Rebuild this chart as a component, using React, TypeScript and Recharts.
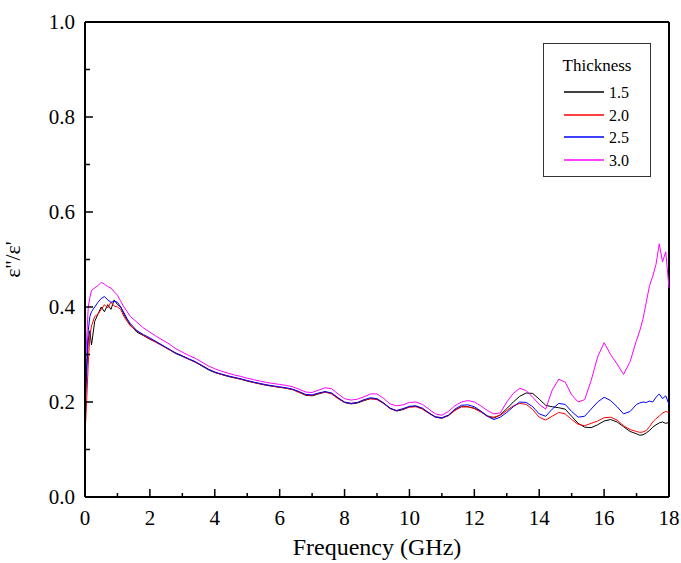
import React from 'react';
import { LineChart, Line, XAxis, YAxis, ReferenceLine, Label } from 'recharts';

const freq = [
  0, 0.05, 0.1, 0.15, 0.2, 0.3, 0.4, 0.5, 0.6, 0.7, 0.8, 0.9, 1.0, 1.1, 1.2, 1.3, 1.4, 1.6, 1.8,
  2.0, 2.2, 2.4, 2.6, 2.8, 3.0, 3.2, 3.4, 3.6, 3.8, 4.0, 4.2, 4.4, 4.6, 4.8,
  5.0, 5.2, 5.4, 5.6, 5.8, 6.0, 6.2, 6.4, 6.6, 6.8, 7.0, 7.2, 7.4, 7.6, 7.8,
  8.0, 8.2, 8.4, 8.6, 8.8, 9.0, 9.2, 9.4, 9.6, 9.8, 10.0, 10.2, 10.4, 10.6, 10.8,
  11.0, 11.2, 11.4, 11.6, 11.8, 12.0, 12.2, 12.4, 12.6, 12.8, 13.0, 13.2, 13.4, 13.6, 13.8,
  14.0, 14.2, 14.4, 14.6, 14.8, 15.0, 15.2, 15.4, 15.6, 15.8, 16.0, 16.2, 16.4, 16.6, 16.8,
  17.0, 17.1, 17.2, 17.3, 17.4, 17.5, 17.6, 17.7, 17.8, 17.9, 18.0,
];

const t15 = [
  0.19, 0.26, 0.33, 0.35, 0.32, 0.37, 0.385, 0.40, 0.39, 0.405, 0.395, 0.415, 0.405, 0.40, 0.385, 0.372, 0.362, 0.347, 0.34,
  0.332, 0.326, 0.318, 0.31, 0.302, 0.296, 0.29, 0.284, 0.276, 0.268, 0.262, 0.258, 0.254, 0.251, 0.248,
  0.244, 0.241, 0.238, 0.235, 0.233, 0.231, 0.229, 0.226, 0.221, 0.214, 0.213, 0.217, 0.221, 0.218, 0.208,
  0.199, 0.196, 0.198, 0.203, 0.207, 0.206, 0.198, 0.187, 0.181, 0.184, 0.19, 0.191, 0.186, 0.177, 0.169,
  0.167, 0.172, 0.183, 0.19, 0.19, 0.187, 0.18, 0.171, 0.166, 0.173, 0.186, 0.2, 0.212, 0.219, 0.218,
  0.206, 0.193, 0.19, 0.188, 0.185, 0.17, 0.155, 0.147, 0.146, 0.152, 0.16, 0.163, 0.158, 0.148, 0.138,
  0.133, 0.13, 0.131, 0.135, 0.14, 0.147, 0.152, 0.156, 0.158, 0.155, 0.157,
];

const t20 = [
  0.13, 0.2, 0.28, 0.34, 0.36, 0.38, 0.385, 0.395, 0.405, 0.398, 0.41, 0.402, 0.40, 0.395, 0.38, 0.37, 0.36, 0.35, 0.34,
  0.333, 0.325, 0.318, 0.31, 0.303, 0.297, 0.29, 0.284, 0.277, 0.269, 0.263, 0.258, 0.255, 0.251, 0.248,
  0.245, 0.241, 0.238, 0.236, 0.233, 0.231, 0.229, 0.226, 0.22, 0.215, 0.214, 0.218, 0.221, 0.217, 0.207,
  0.199, 0.197, 0.199, 0.204, 0.207, 0.205, 0.197, 0.186, 0.182, 0.185, 0.189, 0.19, 0.185, 0.176, 0.168,
  0.166, 0.171, 0.182, 0.19, 0.19, 0.186, 0.179, 0.17, 0.168, 0.172, 0.182, 0.192, 0.197, 0.195, 0.184,
  0.168, 0.162, 0.17, 0.178, 0.175, 0.163, 0.153, 0.15, 0.155, 0.16, 0.167, 0.168, 0.162, 0.15, 0.142,
  0.138, 0.136, 0.137, 0.14, 0.148, 0.158, 0.165, 0.17, 0.177, 0.18, 0.178,
];

const t25 = [
  0.17, 0.28, 0.35, 0.38, 0.39, 0.40, 0.41, 0.418, 0.422, 0.415, 0.41, 0.412, 0.41, 0.40, 0.388, 0.375, 0.365, 0.35, 0.342,
  0.335, 0.327, 0.319, 0.311, 0.303, 0.297, 0.291, 0.285, 0.277, 0.269, 0.263, 0.259, 0.255, 0.252, 0.249,
  0.245, 0.242, 0.239, 0.236, 0.234, 0.232, 0.23, 0.227, 0.222, 0.216, 0.215, 0.219, 0.222, 0.219, 0.209,
  0.2, 0.197, 0.199, 0.205, 0.209, 0.207, 0.198, 0.187, 0.182, 0.186, 0.191, 0.192, 0.187, 0.177, 0.168,
  0.166, 0.172, 0.185, 0.193, 0.194, 0.19, 0.181, 0.17, 0.163, 0.168, 0.178, 0.19, 0.2, 0.199, 0.19,
  0.175, 0.17, 0.185, 0.197, 0.195, 0.18, 0.168, 0.17, 0.185, 0.2, 0.21, 0.203, 0.19, 0.175, 0.18,
  0.195, 0.198, 0.2, 0.199, 0.202, 0.2, 0.21, 0.217, 0.207, 0.213, 0.195,
];

const t30 = [
  0.25, 0.33, 0.40, 0.42, 0.435, 0.44, 0.445, 0.452, 0.448, 0.443, 0.44, 0.432, 0.425, 0.412, 0.40, 0.39, 0.38, 0.368, 0.356,
  0.347, 0.338, 0.33, 0.322, 0.312, 0.305, 0.298, 0.292, 0.284, 0.276, 0.27, 0.265, 0.261, 0.257, 0.254,
  0.25, 0.247, 0.244, 0.241, 0.239, 0.237, 0.235, 0.232, 0.227, 0.221, 0.22, 0.225, 0.23, 0.228, 0.217,
  0.207, 0.204, 0.206, 0.211, 0.217, 0.217, 0.208, 0.196, 0.192, 0.194, 0.199, 0.2, 0.195, 0.185, 0.175,
  0.172, 0.18, 0.192, 0.2, 0.203, 0.2, 0.192, 0.182, 0.175, 0.177, 0.2, 0.218, 0.229, 0.224, 0.21,
  0.195, 0.185, 0.225, 0.248, 0.242, 0.215, 0.2, 0.205, 0.245, 0.295, 0.325, 0.3, 0.28, 0.258, 0.285,
  0.33, 0.35, 0.375, 0.41, 0.445, 0.465, 0.49, 0.533, 0.495, 0.516, 0.44,
];

const seriesNames = ['1.5', '2.0', '2.5', '3.0'];
const seriesKeys = ['t15', 't20', 't25', 't30'];
const seriesColors = ['#000000', '#ff0000', '#0000ff', '#ff00ff'];
const legendTitle = 'Thickness';

const xTicks = [0, 1, 2, 3, 4, 5, 6, 7, 8, 9, 10, 11, 12, 13, 14, 15, 16, 17, 18];
const yTicks = [0, 0.1, 0.2, 0.3, 0.4, 0.5, 0.6, 0.7, 0.8, 0.9, 1.0];

const data = freq.map((f, i) => ({ f, t15: t15[i], t20: t20[i], t25: t25[i], t30: t30[i] }));

const FONT = 'Liberation Serif';

const XTick = (props: any) => {
  const { x, y, payload } = props;
  const v = payload.value;
  const major = Math.round(v) % 2 === 0;
  return (
    <g>
      <line x1={x} y1={y} x2={x} y2={y - (major ? 8 : 4)} stroke="#000" strokeWidth={1.5} />
      {major && (
        <text x={x} y={y + 28} textAnchor="middle" fontFamily={FONT} fontSize={21} fill="#000">
          {String(v)}
        </text>
      )}
    </g>
  );
};

const YTick = (props: any) => {
  const { x, y, payload } = props;
  const v = payload.value;
  const major = Math.round(v * 10) % 2 === 0;
  return (
    <g>
      <line x1={x} y1={y} x2={x + (major ? 8 : 5)} y2={y} stroke="#000" strokeWidth={1.5} />
      {major && (
        <text x={x - 10} y={y + 7} textAnchor="end" fontFamily={FONT} fontSize={21} fill="#000">
          {v.toFixed(1)}
        </text>
      )}
    </g>
  );
};

const LegendBox = () => (
  <div
    style={{
      position: 'absolute',
      left: 543,
      top: 43,
      width: 108,
      height: 134,
      boxSizing: 'border-box',
      border: '1.5px solid #333',
      background: '#fff',
    }}
  >
    <svg width={106} height={131} style={{ position: 'absolute', left: 0, top: 0 }}>
      <text x={53} y={27} textAnchor="middle" fontFamily={FONT} fontSize={17} fill="#000">
        {legendTitle}
      </text>
      {seriesNames.map((n, i) => {
        const ly = 48 + Math.round(i * 22.5);
        return (
          <g key={n}>
            <line x1={20} x2={60} y1={ly} y2={ly} stroke={seriesColors[i]} strokeWidth={1.5} />
            <text x={65} y={ly + 6} fontFamily={FONT} fontSize={16} fill="#000">
              {n}
            </text>
          </g>
        );
      })}
    </svg>
  </div>
);

export default function App() {
  return (
    <div style={{ position: 'absolute', left: 0, top: 0, width: 681, height: 563, background: '#fff' }}>
      <LineChart width={681} height={563} data={data} margin={{ top: 22, right: 12, bottom: 0, left: 0 }}>
        <XAxis
          dataKey="f"
          type="number"
          domain={[0, 18]}
          ticks={xTicks}
          interval={0}
          tickSize={0}
          tickMargin={0}
          height={66}
          tickLine={false}
          tick={<XTick />}
          axisLine={{ stroke: '#000', strokeWidth: 2 }}
        >
          <Label
            value="Frequency (GHz)"
            position="insideBottom"
            offset={8}
            style={{ fontSize: 24, fontFamily: FONT, fill: '#000' }}
          />
        </XAxis>
        <YAxis
          type="number"
          domain={[0, 1]}
          ticks={yTicks}
          interval={0}
          tickSize={0}
          tickMargin={0}
          width={85}
          tickLine={false}
          tick={<YTick />}
          axisLine={{ stroke: '#000', strokeWidth: 2 }}
        >
          <Label
            value="ε''/ε'"
            angle={-90}
            position="insideLeft"
            offset={12}
            style={{ fontSize: 22, fontFamily: FONT, fill: '#000', textAnchor: 'middle' }}
          />
        </YAxis>
        <ReferenceLine y={1} stroke="#000" strokeWidth={2} />
        <ReferenceLine x={18} stroke="#000" strokeWidth={2} />
        {seriesKeys.map((k, i) => (
          <Line
            key={k}
            dataKey={k}
            name={seriesNames[i]}
            type="linear"
            stroke={seriesColors[i]}
            strokeWidth={1}
            dot={false}
            isAnimationActive={false}
          />
        ))}
      </LineChart>
      <LegendBox />
    </div>
  );
}
